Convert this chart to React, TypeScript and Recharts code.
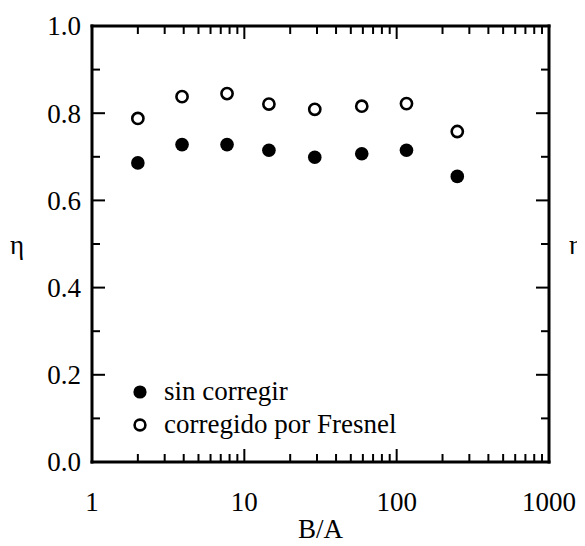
import React from 'react'
import { ScatterChart, Scatter, XAxis, YAxis, Legend } from 'recharts'

// B/A ratio (log axis) and efficiency η
const ratios = [2, 3.9, 7.7, 14.5, 29, 59, 116, 250]
const sinCorregir = [0.686, 0.728, 0.728, 0.715, 0.699, 0.707, 0.715, 0.655]
const corregido = [0.788, 0.838, 0.845, 0.821, 0.809, 0.816, 0.822, 0.758]
const seriesNames = ['sin corregir', 'corregido por Fresnel']

const xTicks = [1, 2, 3, 4, 5, 6, 7, 8, 9, 10, 20, 30, 40, 50, 60, 70, 80, 90, 100, 200, 300, 400, 500, 600, 700, 800, 900, 1000]
const xLabels = [1, 10, 100, 1000]
const yTicks = [0, 0.1, 0.2, 0.3, 0.4, 0.5, 0.6, 0.7, 0.8, 0.9, 1.0]
const yLabels = [0, 0.2, 0.4, 0.6, 0.8, 1.0]

const FONT = 'Liberation Serif, Tinos, Times New Roman, DejaVu Serif, serif'
const FS = 27

const rawData = ratios.map((x, i) => ({ x, y: sinCorregir[i] }))
const fresnelData = ratios.map((x, i) => ({ x, y: corregido[i] }))

const isMajorY = (v: number) => yLabels.some(l => Math.abs(l - v) < 1e-6)
const isMajorX = (v: number) => xLabels.includes(v)

const axisLine = { stroke: '#000', strokeWidth: 3, strokeLinecap: 'square' as const }

function BottomTick({ x, y, payload }: any) {
  const v = payload.value
  const len = isMajorX(v) && v !== 1 && v !== 1000 ? 13 : 8
  return (
    <g>
      <line x1={x} x2={x} y1={y} y2={y - len} stroke="#000" strokeWidth={2} />
      {isMajorX(v) && (
        <text x={x} y={y + 49} textAnchor="middle" style={{ fontFamily: FONT, fontSize: FS }} fill="#000">{v}</text>
      )}
    </g>
  )
}

function TopTick({ x, y, payload }: any) {
  const v = payload.value
  const len = isMajorX(v) && v !== 1 && v !== 1000 ? 13 : 8
  return <line x1={x} x2={x} y1={y} y2={y + len} stroke="#000" strokeWidth={2} />
}

function LeftTick({ x, y, payload }: any) {
  const v = payload.value
  const major = isMajorY(v)
  return (
    <g>
      <line x1={x} x2={x + (major ? 13 : 8)} y1={y} y2={y} stroke="#000" strokeWidth={2} />
      {major && (
        <text x={x - 11} y={y} dy="0.35em" textAnchor="end" style={{ fontFamily: FONT, fontSize: FS }} fill="#000">{v.toFixed(1)}</text>
      )}
    </g>
  )
}

function RightTick({ x, y, payload }: any) {
  const major = isMajorY(payload.value)
  return <line x1={x} x2={x - (major ? 13 : 8)} y1={y} y2={y} stroke="#000" strokeWidth={2} />
}

function FilledDot({ cx, cy }: any) {
  return <circle cx={cx} cy={cy} r={6.8} fill="#000" />
}

function OpenDot({ cx, cy }: any) {
  return <circle cx={cx} cy={cy} r={5.6} fill="#fff" stroke="#000" strokeWidth={2.6} />
}

function NoDot() {
  return <g />
}

function LegendBox() {
  return (
    <div style={{ fontFamily: FONT, fontSize: FS, color: '#000', lineHeight: '33px' }}>
      {seriesNames.map((name, i) => (
        <div key={name} style={{ display: 'flex', alignItems: 'center', whiteSpace: 'nowrap', height: 33 }}>
          <svg width={33} height={20} style={{ flex: 'none' }}>
            {i === 0
              ? <circle cx={9} cy={10} r={6.6} fill="#000" />
              : <circle cx={9} cy={10} r={5.4} fill="#fff" stroke="#000" strokeWidth={2.6} />}
          </svg>
          <span>{name}</span>
        </div>
      ))}
    </div>
  )
}

export default function App() {
  return (
    <div style={{ width: 577, height: 538, background: '#fff' }}>
      <ScatterChart width={577} height={538} margin={{ top: 17, right: 35, bottom: 2, left: 0 }}>
        <XAxis
          xAxisId="bottom"
          dataKey="x"
          type="number"
          scale="log"
          domain={[1, 1000]}
          ticks={xTicks}
          interval={0}
          allowDataOverflow
          height={82}
          tickSize={0}
          tickMargin={0}
          axisLine={axisLine}
          tick={<BottomTick />}
          label={{ value: 'B/A', position: 'insideBottom', offset: 6, style: { fontFamily: FONT, fontSize: FS }, fill: '#000' }}
        />
        <XAxis
          xAxisId="top"
          orientation="top"
          dataKey="x"
          type="number"
          scale="log"
          domain={[1, 1000]}
          ticks={xTicks}
          interval={0}
          allowDataOverflow
          height={1}
          tickSize={0}
          tickMargin={0}
          axisLine={axisLine}
          tick={<TopTick />}
        />
        <YAxis
          yAxisId="left"
          dataKey="y"
          type="number"
          domain={[0, 1]}
          ticks={yTicks}
          interval={0}
          allowDataOverflow
          width={84}
          tickSize={0}
          tickMargin={0}
          axisLine={axisLine}
          tick={<LeftTick />}
          label={{ value: 'η', position: 'insideLeft', offset: 2, style: { fontFamily: FONT, fontSize: FS }, fill: '#000' }}
        />
        <YAxis
          yAxisId="right"
          orientation="right"
          dataKey="y"
          type="number"
          domain={[0, 1]}
          ticks={yTicks}
          interval={0}
          allowDataOverflow
          width={1}
          tickSize={0}
          tickMargin={0}
          axisLine={axisLine}
          tick={<RightTick />}
          label={{ value: 'η', position: 'right', offset: 19, style: { fontFamily: FONT, fontSize: FS }, fill: '#000' }}
        />
        <Legend
          layout="vertical"
          align="center"
          verticalAlign="middle"
          content={<LegendBox />}
          wrapperStyle={{ left: 123, top: 367, width: 330 }}
        />
        <Scatter name="sin corregir" data={rawData} xAxisId="bottom" yAxisId="left" shape={<FilledDot />} isAnimationActive={false} />
        <Scatter name="corregido por Fresnel" data={fresnelData} xAxisId="bottom" yAxisId="left" shape={<OpenDot />} isAnimationActive={false} />
        <Scatter name="frame" data={rawData} xAxisId="top" yAxisId="right" shape={<NoDot />} legendType="none" isAnimationActive={false} />
      </ScatterChart>
    </div>
  )
}
